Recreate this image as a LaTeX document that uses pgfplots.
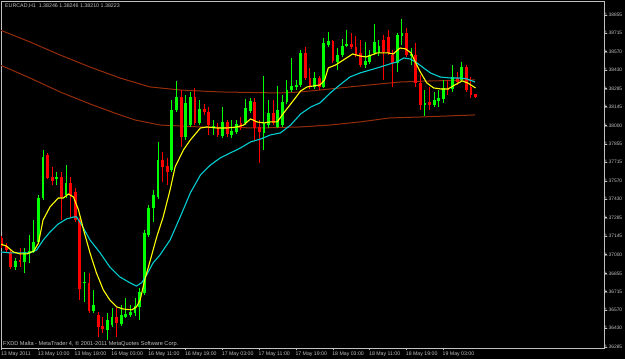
\documentclass[border=0pt]{standalone}
\usepackage{pgfplots}
\pgfplotsset{compat=1.18}
\usepackage{pgfplotstable}
\usepackage{fontspec}
\setmainfont{Liberation Sans}
\definecolor{bull}{RGB}{0,255,0}
\definecolor{bear}{RGB}{255,0,0}
\definecolor{mafast}{RGB}{255,255,0}
\definecolor{maslow}{RGB}{0,206,209}
\definecolor{mabrown}{RGB}{150,45,10}
\definecolor{framecol}{RGB}{192,192,192}

\pgfplotstableread{
x o h l c
3 1.36904 1.36974 1.36881 1.36951
5 1.36943 1.37051 1.36858 1.37021
6 1.37013 1.37152 1.36935 1.37028
7 1.37021 1.37268 1.37013 1.37098
8 1.37098 1.37462 1.37082 1.37438
9 1.37438 1.37810 1.37423 1.37756
12 1.37586 1.37640 1.37539 1.37601
14 1.37462 1.37694 1.37438 1.37555
18 1.36781 1.36866 1.36634 1.36788
20 1.36564 1.36726 1.36548 1.36610
23 1.36417 1.36548 1.36339 1.36494
24 1.36455 1.36587 1.36440 1.36517
26 1.36463 1.36610 1.36448 1.36533
27 1.36517 1.36664 1.36510 1.36541
28 1.36533 1.36610 1.36517 1.36556
29 1.36548 1.36664 1.36525 1.36603
30 1.36595 1.36742 1.36494 1.36711
31 1.36703 1.37191 1.36688 1.37168
32 1.37152 1.37384 1.37137 1.37361
33 1.37361 1.37500 1.37253 1.37462
34 1.37446 1.37872 1.37431 1.37733
37 1.37655 1.38197 1.37640 1.38120
38 1.38120 1.38344 1.38104 1.38220
40 1.37911 1.38236 1.37887 1.38174
41 1.38003 1.38259 1.37988 1.38220
43 1.38019 1.38197 1.38003 1.38127
46 1.37988 1.38042 1.37926 1.37996
48 1.37918 1.38143 1.37903 1.38027
50 1.37926 1.38042 1.37903 1.37957
51 1.37949 1.38042 1.37934 1.38011
53 1.38019 1.38205 1.38003 1.38135
54 1.38112 1.38212 1.38096 1.38189
57 1.37942 1.38383 1.37810 1.38019
58 1.38003 1.38197 1.37980 1.38096
60 1.37988 1.38305 1.37980 1.38120
61 1.38003 1.38236 1.37988 1.38182
62 1.38182 1.38352 1.38166 1.38274
63 1.38274 1.38522 1.38259 1.38305
64 1.38298 1.38352 1.38274 1.38313
65 1.38313 1.38584 1.38298 1.38561
68 1.38298 1.38414 1.38282 1.38367
70 1.38298 1.38677 1.38290 1.38638
71 1.38623 1.38723 1.38607 1.38654
73 1.38491 1.38599 1.38429 1.38545
74 1.38545 1.38669 1.38530 1.38615
75 1.38615 1.38739 1.38607 1.38630
79 1.38468 1.38646 1.38445 1.38499
80 1.38491 1.38584 1.38476 1.38545
81 1.38561 1.38785 1.38545 1.38646
82 1.38561 1.38661 1.38538 1.38615
86 1.38483 1.38716 1.38414 1.38700
87 1.38692 1.38824 1.38623 1.38716
89 1.38538 1.38599 1.38468 1.38553
92 1.38158 1.38274 1.38073 1.38174
94 1.38158 1.38259 1.38143 1.38197
95 1.38189 1.38274 1.38143 1.38212
96 1.38205 1.38352 1.38174 1.38290
98 1.38282 1.38468 1.38259 1.38375
100 1.38352 1.38491 1.38336 1.38452
}\bulltab

\pgfplotstableread{
x o h l c
0 1.37129 1.37144 1.37051 1.37067
1 1.37067 1.37090 1.37013 1.37036
2 1.37021 1.37036 1.36889 1.36904
4 1.36959 1.37051 1.36904 1.36943
10 1.37771 1.37787 1.37586 1.37593
11 1.37601 1.37678 1.37539 1.37570
13 1.37601 1.37640 1.37268 1.37446
15 1.37555 1.37601 1.37291 1.37462
16 1.37485 1.37516 1.37253 1.37268
17 1.37268 1.37284 1.36649 1.36734
19 1.36781 1.36858 1.36548 1.36564
21 1.36533 1.36556 1.36363 1.36440
22 1.36448 1.36517 1.36394 1.36425
25 1.36517 1.36587 1.36363 1.36471
35 1.37733 1.37795 1.37562 1.37678
36 1.37686 1.37748 1.37539 1.37640
39 1.38220 1.38274 1.37833 1.37911
42 1.38220 1.38290 1.38003 1.38019
44 1.38127 1.38166 1.38081 1.38104
45 1.38104 1.38143 1.37926 1.38003
47 1.37988 1.38019 1.37911 1.37926
49 1.38027 1.38042 1.37911 1.37934
52 1.38019 1.38065 1.37965 1.37980
55 1.38182 1.38212 1.37887 1.37980
56 1.37988 1.38042 1.37709 1.37949
59 1.38096 1.38197 1.38003 1.38019
66 1.38561 1.38607 1.38352 1.38367
67 1.38367 1.38445 1.38282 1.38298
69 1.38367 1.38383 1.38274 1.38298
72 1.38654 1.38661 1.38483 1.38499
76 1.38630 1.38716 1.38592 1.38607
77 1.38607 1.38692 1.38530 1.38545
78 1.38561 1.38661 1.38452 1.38468
83 1.38661 1.38700 1.38352 1.38569
84 1.38685 1.38739 1.38545 1.38561
85 1.38545 1.38584 1.38298 1.38483
88 1.38716 1.38754 1.38530 1.38545
90 1.38545 1.38638 1.38298 1.38329
91 1.38329 1.38390 1.38120 1.38158
93 1.38182 1.38298 1.38120 1.38158
97 1.38290 1.38352 1.38236 1.38274
99 1.38367 1.38414 1.38313 1.38336
101 1.38452 1.38468 1.38259 1.38274
102 1.38298 1.38375 1.38212 1.38236
103 1.38246 1.38246 1.38210 1.38223
}\beartab

\pgfplotsset{candle/.style={only marks, mark=*, mark size=0pt, mark options={draw=none, fill=none},
  error bars/.cd, y dir=plus, y explicit, error mark=none}}

\begin{document}
\begin{tikzpicture}
\useasboundingbox (0,0) rectangle (625pt,359pt);
\fill[black] (0,0) rectangle (625pt,359pt);
\begin{axis}[
  at={(1pt,11pt)}, anchor=south west,
  width=603pt, height=347pt, scale only axis,
  xmin=-0.15, xmax=130.93, ymin=1.36277, ymax=1.38963,
  axis background/.style={fill=black},
  axis line style={framecol, line width=0.8pt},
  scaled y ticks=false,
  xtick={0,8,16,24,32,40,48,56,64,72,80,88,96},
  xticklabels={13 May 2011,13 May 10:00,13 May 18:00,16 May 03:00,16 May 11:00,16 May 19:00,17 May 03:00,17 May 11:00,17 May 19:00,18 May 03:00,18 May 11:00,18 May 19:00,19 May 03:00},
  ytick={1.36285,1.36430,1.36570,1.36715,1.36855,1.37000,1.37145,1.37285,1.37430,1.37570,1.37715,1.37855,1.38000,1.38145,1.38285,1.38430,1.38570,1.38715,1.38855},
  yticklabels={1.36285,1.36430,1.36570,1.36715,1.36855,1.37000,1.37145,1.37285,1.37430,1.37570,1.37715,1.37855,1.38000,1.38145,1.38285,1.38430,1.38570,1.38715,1.38855},
  xtick pos=left, ytick pos=right, yticklabel pos=right,
  tick align=outside, major tick length=2.5pt,
  tick style={framecol, line width=0.6pt},
  ticklabel style={font=\fontsize{5.2}{6}\selectfont, text=framecol},
  xticklabel style={anchor=north west, inner sep=0pt, xshift=-0.8pt, yshift=-1.5pt},
  yticklabel style={anchor=west, inner sep=0pt, xshift=-2.2pt, font=\fontsize{4.9}{6}\selectfont},
]
% long-period MAs (brown)
\addplot[mabrown, line width=1pt] coordinates {
(-0.37,1.38739) (6.15,1.38646) (12.7,1.38545) (19.2,1.38452) (25.7,1.38367) (32.2,1.38298) (38.8,1.38274) (47.5,1.38259) (60.5,1.38251) (64.9,1.38259) (69.2,1.38274) (75.7,1.38298) (82.2,1.38321) (86.6,1.38336) (93.1,1.38344) (102.9,1.38352)};
\addplot[mabrown, line width=1pt] coordinates {
(-0.37,1.38468) (6.15,1.38367) (12.7,1.38259) (19.2,1.38166) (25.7,1.38081) (29.0,1.38042) (34.4,1.38003) (43.1,1.37988) (56.2,1.37980) (64.9,1.37988) (71.4,1.38003) (77.9,1.38027) (84.4,1.38058) (90.9,1.38065) (102.9,1.38081)};
% candles: wicks
\addplot[bull, candle, error bar style={line width=1pt, bull}]
  table[x=x, y=l, y error plus expr=\thisrow{h}-\thisrow{l}] \bulltab;
\addplot[bear, candle, error bar style={line width=1pt, bear}]
  table[x=x, y=l, y error plus expr=\thisrow{h}-\thisrow{l}] \beartab;
% candles: bodies
\addplot[bull, candle, error bar style={line width=2.8pt, bull}]
  table[x=x, y=o, y error plus expr={max(\thisrow{c}-\thisrow{o},0.00007)}] \bulltab;
\addplot[bear, candle, error bar style={line width=2.8pt, bear}]
  table[x=x, y=c, y error plus expr={max(\thisrow{o}-\thisrow{c},0.00007)}] \beartab;
% slow MA (cyan)
\addplot[maslow, line width=1.1pt] coordinates {
(-0.3,1.37021) (1.8,1.37013) (4.0,1.37013) (6.2,1.37013) (7.6,1.37036) (9.05,1.37113) (10.5,1.37175) (12.3,1.37237) (14.1,1.37276) (15.6,1.37291) (16.3,1.37291) (17.4,1.37229) (19.2,1.37113) (21.4,1.37013) (23.5,1.36904) (25.7,1.36827) (27.9,1.36781) (29.3,1.36757) (30.4,1.36781) (31.5,1.36842) (32.9,1.36935) (34.4,1.36997) (36.6,1.37113) (38.8,1.37291) (41.0,1.37477) (43.2,1.37616) (45.4,1.37694) (47.5,1.37748) (49.7,1.37787) (51.9,1.37825) (54.1,1.37872) (56.3,1.37895) (58.4,1.37926) (60.6,1.37942) (62.8,1.38003) (65.0,1.38089) (67.2,1.38143) (69.2,1.38174) (71.4,1.38251) (73.5,1.38313) (75.7,1.38375) (77.9,1.38406) (80.1,1.38429) (82.3,1.38452) (84.4,1.38476) (85.9,1.38491) (87.4,1.38522) (88.8,1.38514) (90.3,1.38483) (91.7,1.38445) (93.2,1.38406) (95.3,1.38375) (97.5,1.38367) (99.7,1.38367) (101.1,1.38360) (102.9,1.38336)};
% fast MA (yellow)
\addplot[mafast, line width=1.1pt] coordinates {
(-0.3,1.37082) (1,1.37067) (2.5,1.37021) (4,1.37005) (5.5,1.37005) (7,1.37028) (8,1.37090) (9,1.37268) (10.5,1.37369) (12.3,1.37438) (13.4,1.37438) (14.5,1.37469) (15.6,1.37446) (16.7,1.37346) (17.8,1.37191) (19.2,1.37013) (20.6,1.36858) (22.1,1.36726) (23.5,1.36649) (25,1.36595) (26.4,1.36579) (28.3,1.36572) (29.3,1.36595) (30.1,1.36649) (31.1,1.36804) (32.2,1.36943) (33.7,1.37137) (35.1,1.37291) (36.6,1.37500) (37.7,1.37678) (39.5,1.37810) (41,1.37887) (43.2,1.37980) (44.6,1.37988) (46.8,1.37980) (49,1.37980) (51.1,1.37988) (52.6,1.38003) (54.1,1.38050) (55.5,1.38027) (57,1.38019) (58.4,1.38027) (59.9,1.38027) (61.3,1.38096) (63.5,1.38197) (65,1.38267) (66.4,1.38298) (67.7,1.38305) (69.2,1.38313) (70.2,1.38352) (71,1.38445) (72.6,1.38468) (74.6,1.38514) (76.3,1.38553) (77.8,1.38538) (79.2,1.38530) (80.4,1.38545) (81.6,1.38561) (84,1.38561) (85.1,1.38553) (86.6,1.38599) (87.8,1.38592) (89,1.38561) (89.9,1.38491) (91,1.38414) (92.4,1.38329) (93.9,1.38290) (95.5,1.38282) (97,1.38282) (98.5,1.38313) (100.1,1.38344) (101.3,1.38329) (103,1.38290)};
% texts
\node[anchor=north west, inner sep=0pt, font=\fontsize{5.3}{6}\selectfont, text=framecol] at (rel axis cs:0,1) [xshift=4pt, yshift=-3pt] {EURCAD,H1\ \ 1.38246 1.38246 1.38210 1.38223};
\node[anchor=south west, inner sep=0pt, font=\fontsize{5.6}{6}\selectfont, text=framecol] at (rel axis cs:0,0) [xshift=2pt, yshift=1.5pt] {FXDD Malta - MetaTrader 4, \textcopyright{} 2001-2011 MetaQuotes Software Corp.};
\node[anchor=west, fill=white, text=black, inner xsep=0.5pt, inner ysep=0.7pt, font=\fontsize{4.9}{6}\selectfont] at (axis cs:130.93,1.38223) [xshift=0.8pt] {1.38223};
\end{axis}
\end{tikzpicture}
\end{document}
